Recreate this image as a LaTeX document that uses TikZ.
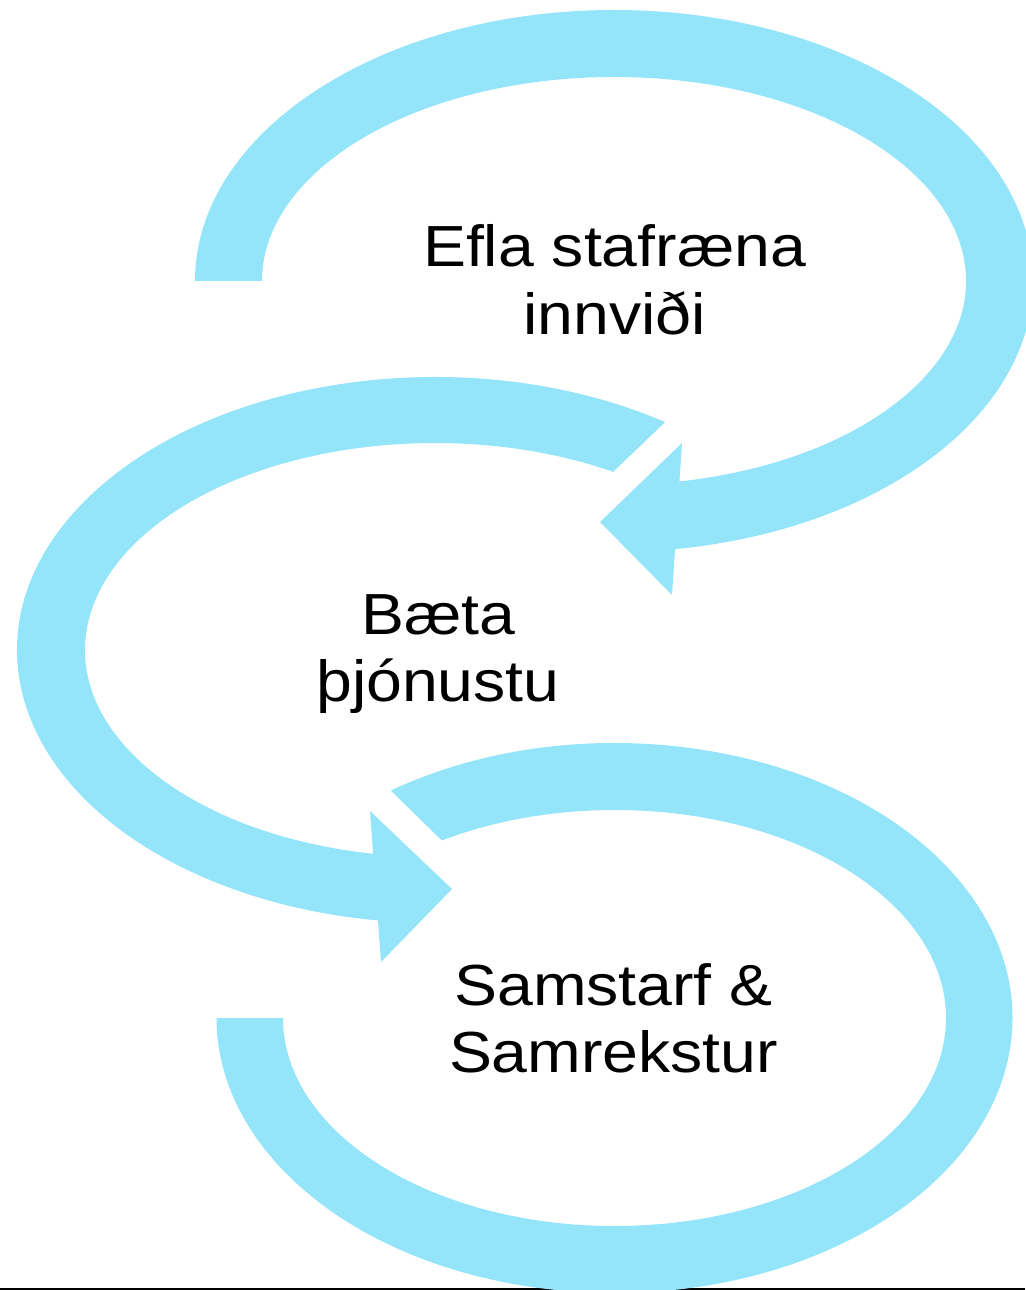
\documentclass[tikz,border=0pt]{standalone}
\usepackage{fontspec}
\setmainfont{Liberation Sans}[FakeStretch=1.11]
\usetikzlibrary{calc}
\definecolor{arrowcyan}{RGB}{148,229,250}
\definecolor{baseline}{RGB}{50,50,50}
\begin{document}
\begin{tikzpicture}[x=0.02cm,y=-0.02cm,
  band/.style={fill=arrowcyan, draw=none},
  txt/.style={font=\fontsize{33}{38.5}\selectfont, inner sep=0pt, anchor=base}]
\useasboundingbox (0,0) rectangle (1025,1290);
\fill[baseline] (0,1288) rectangle (1025,1290);
% top arrow
\coordinate (c1) at (614,281);
\fill[band] ($(c1)+(180:419 and 271)$) arc[start angle=180, end angle=442, x radius=419, y radius=271]
  -- ($(c1)+(440:352 and 204)$) arc[start angle=440, end angle=180, x radius=352, y radius=204] -- cycle;
\fill[band] (682,443) -- (600,522) -- (672,595) -- cycle;
% middle arrow
\coordinate (c2) at (435,650);
\fill[band] ($(c2)+(303.4:418 and 273)$) arc[start angle=303.4, end angle=97.5, x radius=418, y radius=273]
  -- ($(c2)+(99.5:350 and 207)$) arc[start angle=99.5, end angle=300.6, x radius=350, y radius=207] -- cycle;
\fill[band] (370,811) -- (452,889) -- (381,962) -- cycle;
% bottom arrow
\coordinate (c3) at (614.5,1018);
\fill[band] ($(c3)+(235.8:398 and 275)$) arc[start angle=235.8, end angle=540, x radius=398, y radius=275]
  -- ($(c3)+(540:331.5 and 208)$) arc[start angle=540, end angle=238.6, x radius=331.5, y radius=208] -- cycle;
% labels
\node[txt] (t1) at (614.5,267) {\begin{tabular}[t]{@{}c@{}}Efla stafræna\\innviði\end{tabular}};
\node[txt] (t2) at (438,634) {\begin{tabular}[t]{@{}c@{}}Bæta\\þjónustu\end{tabular}};
\node[txt] (t3) at (613.5,1005) {\begin{tabular}[t]{@{}c@{}}Samstarf \&\\Samrekstur\end{tabular}};
\end{tikzpicture}
\end{document}
